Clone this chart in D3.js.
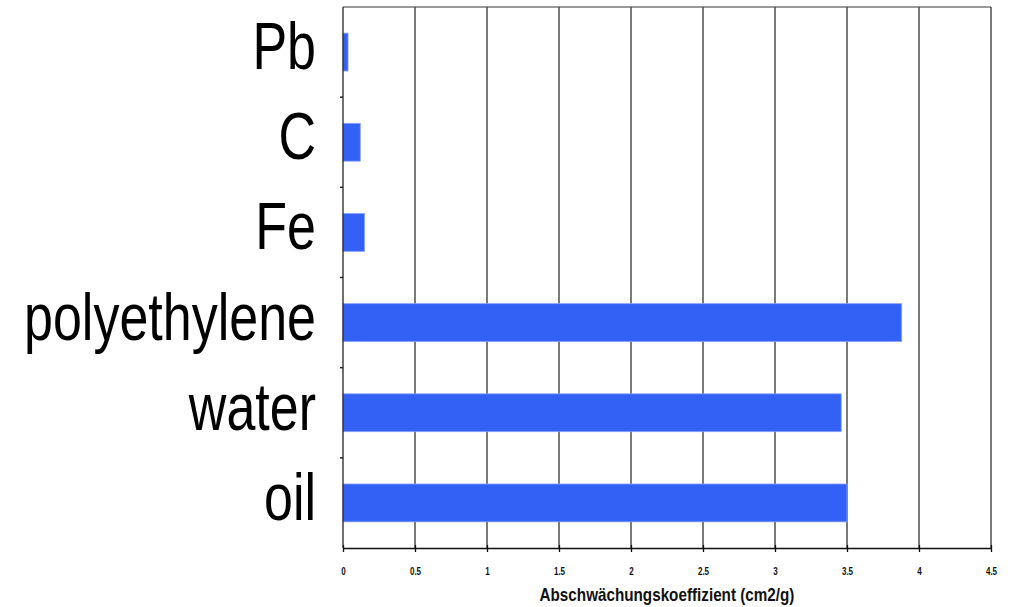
<!DOCTYPE html>
<html><head><meta charset="utf-8">
<script src="https://cdn.jsdelivr.net/npm/d3@7"></script>
<style>body{margin:0;background:#fff}svg{display:block}</style>
</head><body>
<svg id="c" width="1014" height="607"></svg>
<script>
const categories = ["Pb","C","Fe","polyethylene","water","oil"];
const values = [0.035, 0.12, 0.15, 3.88, 3.46, 3.5];
const xTicks = [0,0.5,1,1.5,2,2.5,3,3.5,4,4.5];
const xTickLabels = ["0","0.5","1","1.5","2","2.5","3","3.5","4","4.5"];
const xTitle = "Abschwächungskoeffizient (cm2/g)";

const FONT = "'Liberation Sans','Arial',sans-serif";
const svg = d3.select("#c");
const L=343, R=991, T=7, B=548;
const x = d3.scaleLinear().domain([0,4.5]).range([L,R]);
const y = d3.scaleBand().domain(categories).range([T,B]).paddingInner(0.58).paddingOuter(0.29);
const yb = d3.scaleBand().domain(categories).range([T,B]);

// top border
svg.append("line").attr("x1",L).attr("x2",R).attr("y1",T).attr("y2",T)
  .attr("stroke","#777").attr("stroke-width",1.5);
// gridlines
svg.append("g").selectAll("line").data(xTicks.slice(1)).join("line")
  .attr("x1",d=>x(d)).attr("x2",d=>x(d)).attr("y1",T).attr("y2",B)
  .attr("stroke","#333").attr("stroke-width",1.3);

// bars
svg.append("g").selectAll("rect").data(categories).join("rect")
  .attr("x",x(0)).attr("y",d=>y(d)).attr("height",y.bandwidth())
  .attr("width",(d,i)=>x(values[i])-x(0))
  .attr("fill","#3461f5").attr("stroke","#8aa2f8").attr("stroke-width",0.8);

// x axis
const xa = svg.append("g").attr("transform",`translate(0,${B})`)
  .call(d3.axisBottom(x).tickValues(xTicks).tickFormat((d,i)=>xTickLabels[i]).tickSize(4).tickSizeOuter(0));
xa.select(".domain").attr("stroke","#111").attr("stroke-width",1.3);
xa.selectAll(".tick line").attr("stroke","#111").attr("stroke-width",1.3).attr("y1",-3);
xa.selectAll(".tick text").attr("font-family",FONT)
  .attr("font-size",11.5).attr("font-weight","bold").attr("fill","#111")
  .attr("y",0).attr("dy",null)
  .attr("transform","translate(0,26.5) scale(0.7,1)");

// y axis line + ticks
svg.append("line").attr("x1",L).attr("x2",L).attr("y1",T).attr("y2",B).attr("stroke","#222").attr("stroke-width",1.3);
svg.append("g").selectAll("line").data(categories.slice(1)).join("line")
  .attr("x1",L-3).attr("x2",L).attr("y1",d=>yb(d)).attr("y2",d=>yb(d))
  .attr("stroke","#222").attr("stroke-width",1.5);

// category labels (condensed via horizontal scale)
const catLabels = svg.append("g").selectAll("text").data(categories).join("text")
  .attr("x",0).attr("y",0)
  .attr("text-anchor","end")
  .attr("font-family",FONT)
  .attr("font-size",66).attr("fill","#000").text(d=>d);
const polyW = catLabels.filter(d=>d==="polyethylene").node().getComputedTextLength();
const sc = 292/polyW;
catLabels.attr("transform",d=>`translate(316,${yb(d)+yb.bandwidth()/2+17}) scale(${sc},1)`);

// title
const title = svg.append("text").attr("x",0).attr("y",0).attr("text-anchor","middle")
  .attr("font-family",FONT)
  .attr("font-size",18).attr("font-weight","bold").attr("fill","#111").text(xTitle);
const tw = title.node().getComputedTextLength();
title.attr("transform",`translate(667,601) scale(${255/tw},1)`);
</script>
</body></html>
